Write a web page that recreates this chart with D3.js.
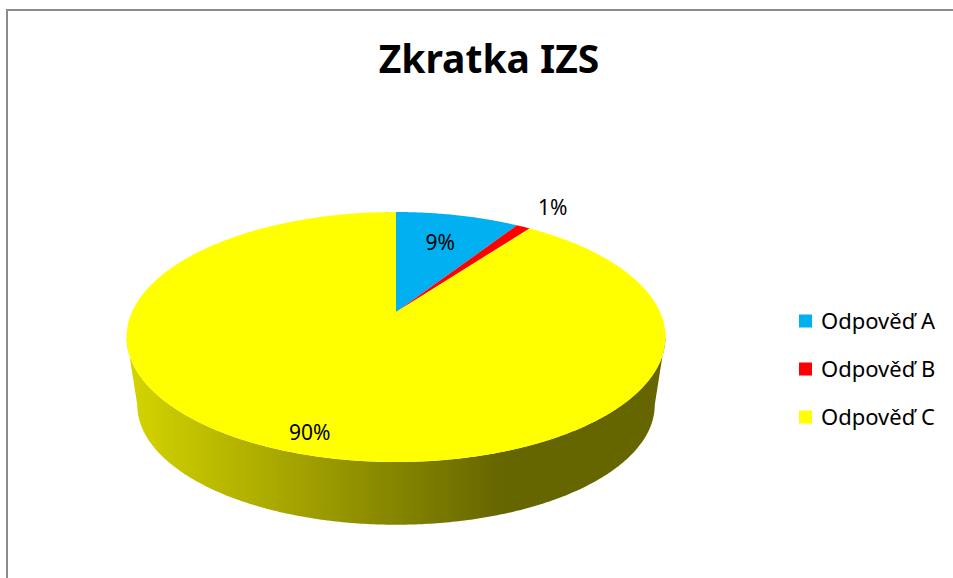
<!DOCTYPE html>
<html>
<head>
<meta charset="utf-8">
<script src="https://cdn.jsdelivr.net/npm/d3@7"></script>
<style>
	body { margin: 0; background: #ffffff; }
	svg { display: block; font-family: 'Noto Sans', 'Open Sans', sans-serif; }
</style>
</head>
<body>
<svg id="chart" width="953" height="578"></svg>
<script>

var strTitle = 'Zkratka IZS';
var aCategories = ['Odpověď A', 'Odpověď B', 'Odpověď C'];
var aValues = [9, 1, 90];
var aColors = ['#00b0f0', '#ff0000', '#ffff00'];

function D3_Pie3D(vSelector)
{
	var sSvg = d3.select(vSelector);

	// frame of the chart area
	sSvg.append('rect')
		.attr('x', 7)
		.attr('y', 10)
		.attr('width', 980)
		.attr('height', 600)
		.attr('fill', 'none')
		.attr('stroke', '#8c8c8c')
		.attr('stroke-width', 2);

	sSvg.append('text')
		.attr('x', 489)
		.attr('y', 73)
		.attr('text-anchor', 'middle')
		.attr('font-size', 39)
		.attr('font-weight', 'bold')
		.attr('fill', '#000')
		.text(strTitle);

	// perspective: top face and bottom face of the disc
	var nCx = 396;
	var nTilt = 0.2;
	var oTop = { cy: 312, ax: 264, by: 120 };
	var oBottom = { cy: 381, ax: 253.5, by: 115 };

	function Project(oFace, fAngle, fRadius)
	{
		var u = Math.sin(fAngle) * fRadius;
		var v = -Math.cos(fAngle) * fRadius;
		var d = 1 - nTilt * v;
		return [nCx + oFace.ax * u / d, oFace.cy + oFace.by * v / d];
	}

	function ArcPoints(oFace, fStart, fEnd)
	{
		var aPoints = [];
		var nSteps = Math.max(2, Math.ceil(Math.abs(fEnd - fStart) / 0.01));
		for (var i = 0; i <= nSteps; i++)
		{
			aPoints.push(Project(oFace, fStart + (fEnd - fStart) * i / nSteps, 1));
		}
		return aPoints;
	}

	var pie = d3.pie().sort(null).value(function(d) { return d; });
	var aArcs = pie(aValues);
	var fTotal = d3.sum(aValues);
	var line = d3.line();

	// visible part of the outer wall (front half between silhouettes)
	var fWallStart = Math.PI - Math.asin(Math.sqrt(1 - nTilt * nTilt));
	var fWallEnd = Math.PI + Math.asin(Math.sqrt(1 - nTilt * nTilt));

	var sDefs = sSvg.append('defs');
	aArcs.forEach(function(arc, nIndex)
	{
		var sGrad = sDefs.append('linearGradient')
			.attr('id', 'wall' + nIndex)
			.attr('gradientUnits', 'userSpaceOnUse')
			.attr('x1', 130).attr('x2', 500)
			.attr('y1', 0).attr('y2', 0);
		sGrad.append('stop').attr('offset', 0)
			.attr('stop-color', d3.interpolateRgb(aColors[nIndex], '#000')(0.17));
		sGrad.append('stop').attr('offset', 1)
			.attr('stop-color', d3.interpolateRgb(aColors[nIndex], '#000')(0.6));
	});

	var sWalls = sSvg.append('g');
	aArcs.forEach(function(arc, nIndex)
	{
		var fStart = Math.max(arc.startAngle, fWallStart);
		var fEnd = Math.min(arc.endAngle, fWallEnd);
		if (fEnd <= fStart) return;
		var aPoints = ArcPoints(oTop, fStart, fEnd)
			.concat(ArcPoints(oBottom, fEnd, fStart));
		sWalls.append('path')
			.attr('d', line(aPoints) + 'Z')
			.attr('fill', 'url(#wall' + nIndex + ')');
	});

	var sFaces = sSvg.append('g');
	aArcs.forEach(function(arc, nIndex)
	{
		var aPoints = [Project(oTop, 0, 0)].concat(ArcPoints(oTop, arc.startAngle, arc.endAngle));
		sFaces.append('path')
			.attr('d', line(aPoints) + 'Z')
			.attr('fill', aColors[nIndex]);
	});

	var sLabels = sSvg.append('g')
		.attr('font-size', 21)
		.attr('fill', '#000');
	aArcs.forEach(function(arc, nIndex)
	{
		var fShare = arc.value / fTotal;
		var fRadius = 0.68;
		if (fShare < 0.03) fRadius = 1.28;
		else if (fShare > 0.5) fRadius = 0.88;
		var fMid = (arc.startAngle + arc.endAngle) / 2;
		var aPos = Project(oTop, fMid, fRadius);
		sLabels.append('text')
			.attr('x', aPos[0])
			.attr('y', aPos[1])
			.attr('dy', '0.35em')
			.attr('text-anchor', 'middle')
			.text(d3.format('.0%')(fShare));
	});

	// legend
	var scaleLegend = d3.scalePoint()
		.domain(aCategories)
		.range([321, 417]);
	var sLegend = sSvg.append('g').attr('font-size', 22);
	aCategories.forEach(function(strCat, nIndex)
	{
		var y = scaleLegend(strCat);
		sLegend.append('rect')
			.attr('x', 799)
			.attr('y', y - 6.5)
			.attr('width', 13)
			.attr('height', 13)
			.attr('fill', aColors[nIndex]);
		sLegend.append('text')
			.attr('x', 821)
			.attr('y', y)
			.attr('dy', '0.35em')
			.text(strCat);
	});
}

D3_Pie3D('#chart');
</script>
</body>
</html>
